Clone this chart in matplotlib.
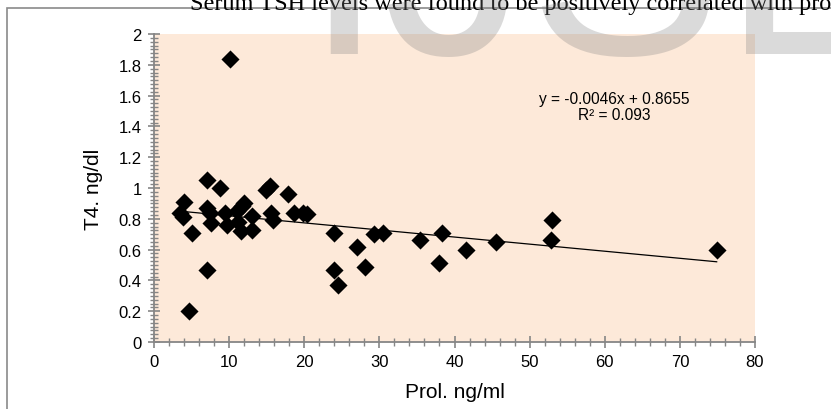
import matplotlib
matplotlib.use("Agg")
import matplotlib.pyplot as plt
from matplotlib.patches import Rectangle
from matplotlib.ticker import MultipleLocator
import numpy as np

# Prolactin (ng/ml) vs T4 (ng/dl)
prol = [10.1, 3.5, 3.9, 4.0, 5.0, 4.7, 7.1, 7.0, 7.5, 7.6, 7.1, 8.8, 9.5, 9.7,
        11.0, 11.2, 11.6, 11.7, 12.0, 13.0, 13.1, 14.9, 15.4, 15.6, 15.8, 17.8,
        18.6, 19.9, 20.3, 24.0, 23.9, 24.5, 27.0, 28.1, 29.3, 30.5, 35.4, 38.4,
        38.0, 41.5, 45.5, 53.0, 52.8, 74.9]
t4 = [1.84, 0.84, 0.81, 0.91, 0.71, 0.20, 1.05, 0.87, 0.84, 0.77, 0.47, 1.00,
      0.84, 0.76, 0.85, 0.78, 0.72, 0.88, 0.90, 0.82, 0.73, 0.99, 1.01, 0.84,
      0.79, 0.96, 0.84, 0.84, 0.83, 0.71, 0.47, 0.37, 0.62, 0.49, 0.70, 0.71,
      0.66, 0.71, 0.51, 0.60, 0.65, 0.79, 0.66, 0.60]

slope = -0.0046
intercept = 0.8655
r2 = 0.093

eq_text = "y = -0.0046x + 0.8655\nR² = 0.093"
xlabel = "Prol. ng/ml"
ylabel = "T4. ng/dl"
caption = "Serum TSH levels were found to be positively correlated with prolactin levels"

plt.rcParams["font.family"] = ["Liberation Sans", "DejaVu Sans"]

W, H = 831, 410
fig = plt.figure(figsize=(W / 100, H / 100), dpi=100)

# outer chart frame (only left and top edges fall inside the picture)
fig.patches.append(Rectangle((7 / W, -0.1), 1.2, 1 - 9 / H + 0.1,
                             transform=fig.transFigure, fill=False,
                             edgecolor="#8a8a8a", linewidth=1.2))

ax = fig.add_axes([154 / W, 1 - 343 / H, (755 - 154) / W, (343 - 35) / H])
ax.set_facecolor("#fde9d9")

ax.scatter(prol, t4, marker="D", s=85, color="black", zorder=3, linewidths=0)

xs = np.array([min(prol), max(prol)])
ax.plot(xs, slope * xs + intercept, color="black", linewidth=0.9, zorder=2)

ax.text(0.765, 0.815, eq_text, transform=ax.transAxes, ha="center", va="top",
        fontsize=11.2, linespacing=1.05)

ax.set_xlim(0, 80)
ax.set_ylim(0, 2)
ax.xaxis.set_major_locator(MultipleLocator(10))
ax.xaxis.set_minor_locator(MultipleLocator(2))
ax.yaxis.set_major_locator(MultipleLocator(0.2))
ax.yaxis.set_minor_locator(MultipleLocator(0.025))
ax.yaxis.set_major_formatter(matplotlib.ticker.FuncFormatter(lambda v, p: f"{v:g}"))

for s in ["top", "right"]:
    ax.spines[s].set_visible(False)
for s in ["left", "bottom"]:
    ax.spines[s].set_color("#868686")
    ax.spines[s].set_linewidth(1.3)

ax.tick_params(which="major", direction="inout", length=8, width=1.2,
               color="#868686", labelsize=12, pad=5)
ax.tick_params(which="minor", direction="inout", length=6, width=1.0,
               color="#868686")

ax.set_xlabel(xlabel, fontsize=15, labelpad=9)
ax.set_ylabel(ylabel, fontsize=15, labelpad=11)

# cropped caption line and watermark from the source page
fig.text(190 / W, 1 - 10 / H, caption, family="Liberation Serif", fontsize=17.5,
         ha="left", va="baseline", color="black")
fig.text(303 / W, 1 - 54 / H, "IJSER", fontsize=209, ha="left", va="baseline",
         color="#808080", alpha=0.29)

fig.savefig("out.png", dpi=100)
